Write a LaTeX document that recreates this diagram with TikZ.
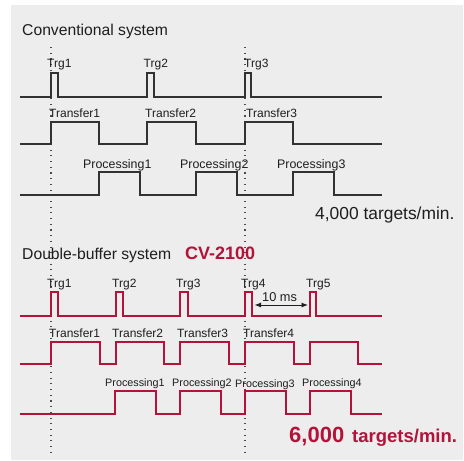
\documentclass[tikz,border=0pt]{standalone}
\usepackage{fontspec}
\setmainfont{Liberation Sans}
\usetikzlibrary{arrows.meta}
\definecolor{panel}{RGB}{237,237,237}
\definecolor{cvred}{RGB}{181,18,58}
\definecolor{ink}{RGB}{30,30,30}
\definecolor{sigc}{RGB}{50,50,50}
\tikzset{
  sigconv/.style={draw=sigc, line width=1.2pt, line join=miter},
  sigred/.style={draw=cvred, line width=1.5pt, line join=miter},
  guide/.style={draw=ink!80, line width=1.1pt, dash pattern=on 1.1pt off 4.6pt},
  lbl/.style={inner sep=0pt, anchor=base west, text=ink},
  trglbl/.style={lbl, font=\fontsize{12}{13}\selectfont},
  trflbl/.style={lbl, font=\fontsize{12}{13}\selectfont},
  prclbl/.style={lbl, font=\fontsize{12.4}{13}\selectfont},
  prclblsmall/.style={lbl, font=\fontsize{10.8}{12}\selectfont},
  titlelbl/.style={lbl, font=\fontsize{15.7}{17}\selectfont},
}
\begin{document}
\begin{tikzpicture}[x=1pt,y=-1pt]
\useasboundingbox (0,0) rectangle (464,461);
\fill[panel] (11,5) rectangle (463,460);

% guide lines
\coordinate (g1t) at (51,47); \coordinate (g1b) at (51,454);
\coordinate (g2t) at (245,47); \coordinate (g2b) at (245,454);
\draw[guide] (g1t) -- (g1b);
\draw[guide] (g2t) -- (g2b);

% ---------------- Conventional system
\node[titlelbl] (t1) at (22,35) {Conventional system};

\draw[sigconv] (20,97) -- (51,97) -- (51,73) -- (58,73) -- (58,97) -- (147,97) -- (147,73) -- (154,73) -- (154,97)
  -- (245,97) -- (245,73) -- (251,73) -- (251,97) -- (382,97);
\node[trglbl] (ct1) at (47,67) {Trg1};
\node[trglbl] (ct2) at (143.5,67) {Trg2};
\node[trglbl] (ct3) at (244,67) {Trg3};

\draw[sigconv] (20,144) -- (51,144) -- (51,122) -- (99,122) -- (99,144) -- (147,144) -- (147,122) -- (196,122) -- (196,144)
  -- (245,144) -- (245,122) -- (293,122) -- (293,144) -- (382,144);
\node[trflbl] (cf1) at (49,117) {Transfer1};
\node[trflbl] (cf2) at (145,117) {Transfer2};
\node[trflbl] (cf3) at (246,117) {Transfer3};

\draw[sigconv] (20,195) -- (99,195) -- (99,172) -- (140,172) -- (140,195) -- (196,195) -- (196,172) -- (237,172) -- (237,195)
  -- (293,195) -- (293,172) -- (334,172) -- (334,195) -- (382,195);
\node[prclbl] (cp1) at (83,168) {Processing1};
\node[prclbl] (cp2) at (180,168) {Processing2};
\node[prclbl] (cp3) at (277,168) {Processing3};

\node[lbl, font=\fontsize{17.4}{18}\selectfont] (crate) at (315,219) {4,000 targets/min.};

% ---------------- Double-buffer system
\node[titlelbl] (t2) at (22,259) {Double-buffer system};
\node[lbl, text=cvred, font=\fontsize{18}{19}\selectfont\bfseries] (cv) at (185,259) {CV-2100};

\draw[sigred] (20,316) -- (51,316) -- (51,292) -- (58,292) -- (58,316) -- (116,316) -- (116,292) -- (123,292) -- (123,316)
  -- (180,316) -- (180,292) -- (188,292) -- (188,316) -- (245,316) -- (245,292) -- (252,292) -- (252,316)
  -- (310,316) -- (310,292) -- (316,292) -- (316,316) -- (382,316);
\node[trglbl] (dt1) at (47,287) {Trg1};
\node[trglbl] (dt2) at (112,287) {Trg2};
\node[trglbl] (dt3) at (176,287) {Trg3};
\node[trglbl] (dt4) at (241,287) {Trg4};
\node[trglbl] (dt5) at (306,287) {Trg5};

\coordinate (msa) at (254.5,305);
\coordinate (msb) at (308,305);
\draw[ink, line width=0.9pt, {Latex[length=6.5pt,width=5pt]}-{Latex[length=6.5pt,width=5pt]}] (msa) -- (msb);
\node[lbl, font=\fontsize{12.8}{13}\selectfont] (ms) at (262,301) {10 ms};

\draw[sigred] (20,364) -- (51,364) -- (51,342) -- (100,342) -- (100,364) -- (116,364) -- (116,342) -- (164,342) -- (164,364)
  -- (180,364) -- (180,342) -- (229,342) -- (229,364) -- (245,364) -- (245,342) -- (294,342) -- (294,364)
  -- (310,364) -- (310,342) -- (358,342) -- (358,364) -- (382,364);
\node[trflbl] (df1) at (49,337) {Transfer1};
\node[trflbl] (df2) at (112,337) {Transfer2};
\node[trflbl] (df3) at (177,337) {Transfer3};
\node[trflbl] (df4) at (243,337) {Transfer4};

\draw[sigred] (20,414) -- (115,414) -- (115,391) -- (156,391) -- (156,414) -- (180,414) -- (180,391) -- (221,391) -- (221,414)
  -- (245,414) -- (245,391) -- (286,391) -- (286,414) -- (310,414) -- (310,391) -- (351,391) -- (351,414) -- (382,414);
\node[prclblsmall] (dp1) at (105,386) {Processing1};
\node[prclblsmall] (dp2) at (172,386) {Processing2};
\node[prclblsmall] (dp3) at (235,387) {Processing3};
\node[prclblsmall] (dp4) at (302,386) {Processing4};

\node[lbl, text=cvred, font=\fontsize{22}{23}\selectfont\bfseries] (drate) at (289,442) {6,000};
\node[lbl, text=cvred, font=\fontsize{18.5}{19}\selectfont\bfseries] (drate2) at (352,442) {targets/min.};
\end{tikzpicture}
\end{document}
